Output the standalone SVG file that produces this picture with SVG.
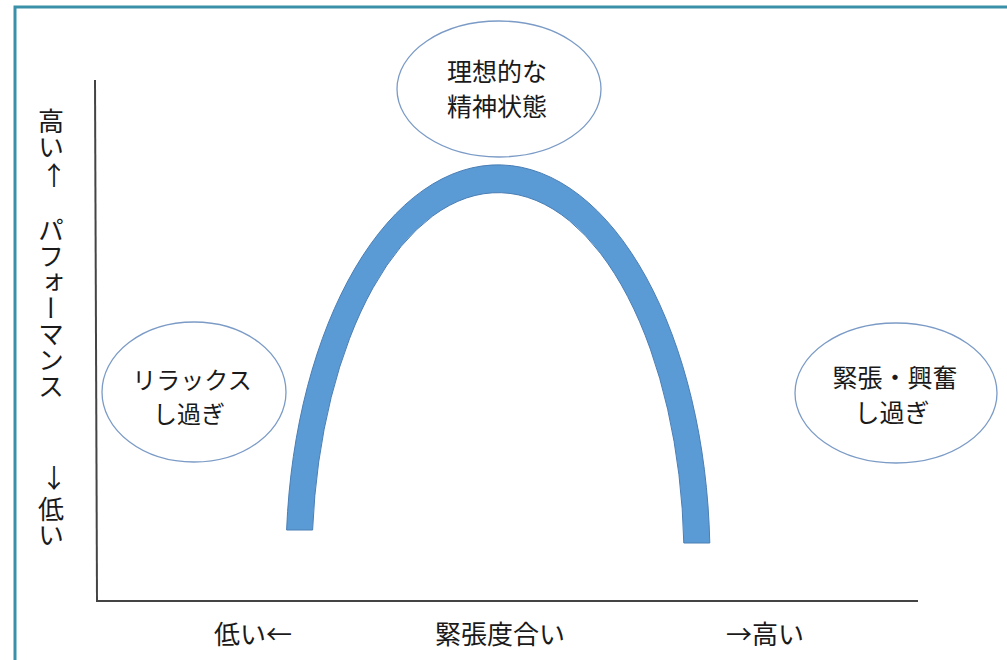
<svg xmlns="http://www.w3.org/2000/svg" width="1007" height="660" viewBox="0 0 1007 660">
  <style>
    .t { font-family: "Noto Sans CJK JP", "Noto Sans", sans-serif; fill: #1a1a1a; }
    .lbl { font-size: 25px; text-anchor: middle; dominant-baseline: central; }
    .sm { font-size: 24px; }
    .ax { font-size: 26px; text-anchor: middle; dominant-baseline: central; }
    .vt { font-size: 26px; writing-mode: vertical-rl; text-anchor: start; }
    .arr { font-size: 26px; text-anchor: middle; dominant-baseline: central; }
    .node ellipse { fill: #ffffff; stroke: #7b9bc6; stroke-width: 1.3; }
    .axis { stroke: #444444; stroke-width: 2; fill: none; }
  </style>
  <rect x="0" y="0" width="1007" height="660" fill="#ffffff"/>
  <rect id="frame" x="15" y="7" width="1010" height="700" fill="none" stroke="#3a90a8" stroke-width="3"/>

  <g id="connectors">
    <line class="axis" x1="95" y1="80" x2="97" y2="601"/>
    <line class="axis" x1="96" y1="601" x2="918" y2="601"/>
  </g>

  <g id="curve">
    <path d="M 286.6,530 A 212 395 0 0 1 709.8,543 L 683.8,543 A 186 367 0 0 0 312.6,530 Z" fill="#5b9bd5" stroke="#4a7eb5" stroke-width="1"/>
  </g>

  <g id="axis-labels">
    <text class="t vt" x="51" y="108">高い</text>
    <text class="t arr" x="54" y="173">↑</text>
    <text class="t vt" x="51" y="217">パフォーマンス</text>
    <text class="t arr" x="54" y="476">↓</text>
    <text class="t vt" x="51" y="496">低い</text>
    <text class="t ax" x="253" y="632">低い←</text>
    <text class="t ax" x="500" y="632">緊張度合い</text>
    <text class="t ax" x="765" y="632">→高い</text>
  </g>

  <g id="node-ideal" class="node">
    <ellipse cx="499" cy="89" rx="102" ry="68"/>
    <text class="t lbl" x="497" y="70">理想的な</text>
    <text class="t lbl" x="497" y="105">精神状態</text>
  </g>

  <g id="node-relax" class="node">
    <ellipse cx="194" cy="392" rx="92" ry="70"/>
    <text class="t lbl sm" x="192" y="378">リラックス</text>
    <text class="t lbl sm" x="189" y="412">し過ぎ</text>
  </g>

  <g id="node-tense" class="node">
    <ellipse cx="896" cy="393" rx="101" ry="70"/>
    <text class="t lbl" x="895" y="376">緊張・興奮</text>
    <text class="t lbl" x="892" y="411">し過ぎ</text>
  </g>
</svg>
